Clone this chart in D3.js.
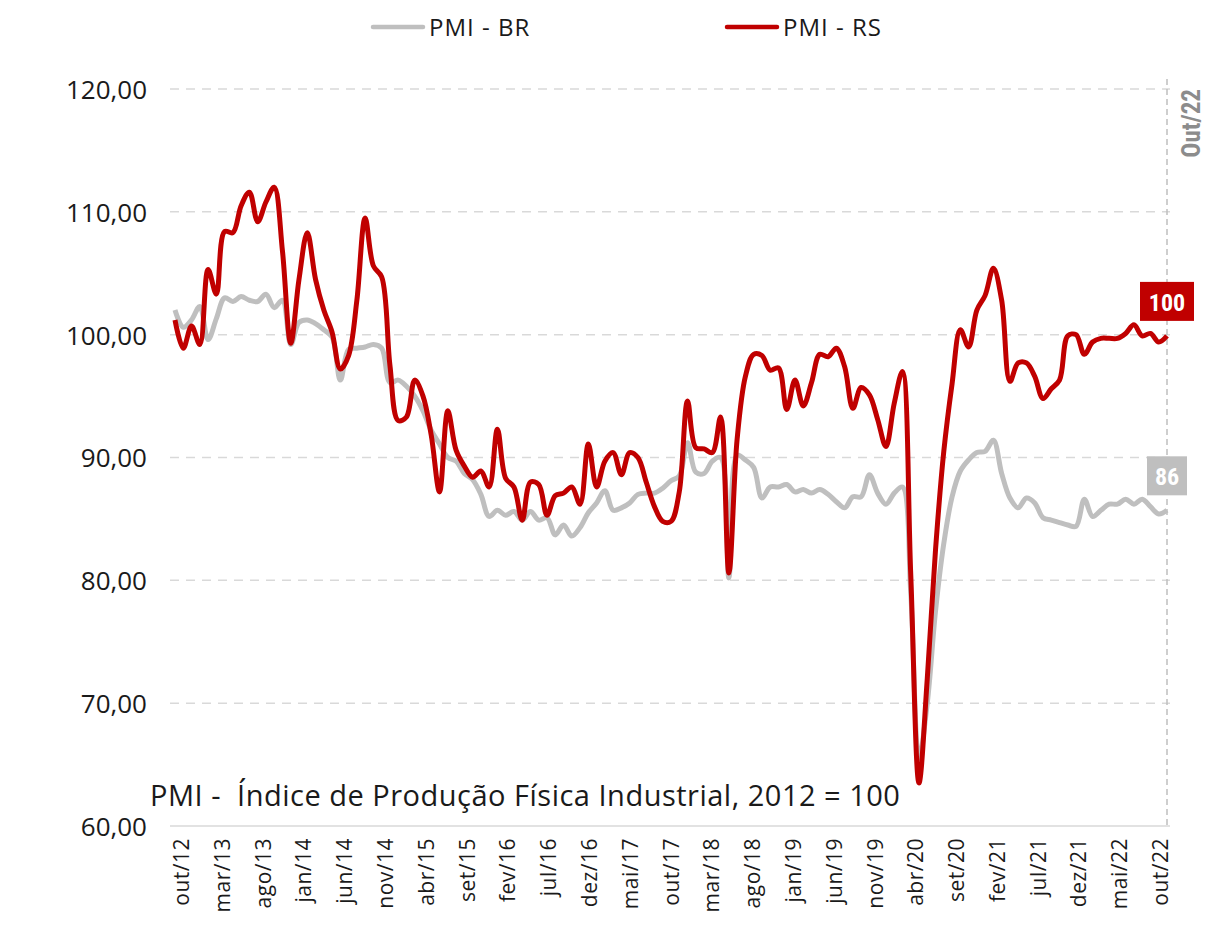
<!DOCTYPE html>
<html>
<head>
<meta charset="utf-8">
<script src="https://cdn.jsdelivr.net/npm/d3@7"></script>
<style>
  body { margin: 0; background: #fff; }
  #pmi-chart { width: 1217px; height: 938px; }
  text { font-family: "Open Sans", "Lato", sans-serif; }
</style>
</head>
<body>
<div id="pmi-chart"></div>
<script>
// monthly index, out/12 .. out/22 (121 months)
var tickLabels = ['out/12', 'mar/13', 'ago/13', 'jan/14', 'jun/14', 'nov/14', 'abr/15', 'set/15',
    'fev/16', 'jul/16', 'dez/16', 'mai/17', 'out/17', 'mar/18', 'ago/18', 'jan/19', 'jun/19',
    'nov/19', 'abr/20', 'set/20', 'fev/21', 'jul/21', 'dez/21', 'mai/22', 'out/22'];
var tickStep = 5;

var pmiBR = [
    102.0, 100.6, 101.2, 102.3, 99.6, 101.3, 103.0, 102.7, 103.1, 102.8,
    102.7, 103.3, 102.2, 102.8, 99.2, 101.0, 101.2, 100.9, 100.4, 99.8,
    96.3, 98.8, 98.9, 99.0, 99.2, 98.9, 96.1, 96.3, 95.8, 95.0,
    93.8, 92.2, 91.1, 90.0, 89.7, 88.7, 88.2, 87.0, 85.2, 85.7,
    85.3, 85.6, 84.9, 85.6, 84.9, 85.1, 83.7, 84.5, 83.6, 84.3,
    85.5, 86.3, 87.3, 85.7, 85.9, 86.3, 87.0, 87.1, 87.1, 87.5,
    88.1, 88.5, 91.2, 88.8, 88.7, 89.7, 90.0, 80.2, 90.2, 89.8,
    89.2, 86.7, 87.6, 87.6, 87.8, 87.2, 87.4, 87.1, 87.4, 87.0,
    86.4, 85.9, 86.8, 86.8, 88.6, 87.1, 86.2, 87.1, 87.6, 79.0,
    65.5, 70.0, 77.5, 83.0, 86.8, 88.9, 89.8, 90.4, 90.5, 91.4,
    88.7, 86.7, 85.9, 86.7, 86.3, 85.1, 84.9, 84.7, 84.5, 84.4,
    86.6, 85.2, 85.7, 86.2, 86.2, 86.6, 86.2, 86.6, 86.0, 85.4,
    85.7
];

var pmiRS = [
    101.2, 98.9, 100.7, 99.2, 105.3, 103.3, 108.4, 108.3, 110.5, 111.6,
    109.2, 110.8, 112.0, 106.8, 99.3, 104.5, 108.3, 104.5, 102.0, 100.2,
    97.2, 98.3, 102.8, 109.5, 105.6, 104.7, 97.5, 93.0, 93.3, 96.3,
    95.0, 91.8, 87.2, 93.8, 90.6, 89.3, 88.4, 88.9, 87.6, 92.3,
    88.3, 87.6, 84.9, 88.0, 87.8, 85.3, 86.9, 87.1, 87.6, 86.2,
    91.1, 87.6, 89.7, 90.4, 88.6, 90.4, 90.0, 88.0, 86.0, 84.8,
    84.8, 87.2, 94.6, 90.8, 90.7, 90.4, 93.3, 80.6, 91.5, 96.6,
    98.4, 98.3, 97.1, 97.3, 93.9, 96.3, 94.2, 96.1, 98.4, 98.2,
    98.9, 97.4, 94.0, 95.7, 95.1, 93.1, 90.9, 94.4, 97.0, 80.5,
    63.5, 72.0, 82.5, 90.5, 96.0, 100.4, 99.0, 102.0, 103.2, 105.4,
    102.8, 96.2, 97.7, 97.7, 96.6, 94.8, 95.6, 96.3, 99.9, 100.0,
    98.4, 99.4, 99.7, 99.7, 99.7, 100.1, 100.8, 99.9, 100.1, 99.4,
    99.9
];

var yTicks = [60, 70, 80, 90, 100, 110, 120];

var seriesNames = ['PMI - BR', 'PMI - RS'];
var seriesColours = ['#bfbfbf', '#c00000'];
var lastLabel = 'Out/22';
var note = 'PMI -  Índice de Produção Física Industrial, 2012 = 100';

var margin = {top: 89, right: 50, bottom: 112, left: 175},
    fullWidth = 1217,
    fullHeight = 938,
    width = 1167 - margin.left,
    height = 826 - margin.top;

var svg = d3.select('#pmi-chart').append('svg')
        .attr('width', fullWidth)
        .attr('height', fullHeight)
      .append('g')
        .attr('transform', 'translate(' + margin.left + ',' + margin.top + ')');

var xScale = d3.scaleLinear().domain([0, pmiRS.length - 1]).range([0, width]);
var yScale = d3.scaleLinear().domain([60, 120]).range([height, 0]);
// category labels sit a little inside the line ends
var labelScale = xScale.copy().range([6, width - 7]);

// grid lines
svg.append('g')
    .attr('class', 'grid')
    .selectAll('line')
    .data(yTicks.filter(function(d) { return d > 60; }))
    .enter().append('line')
        .attr('x1', -5)
        .attr('x2', width + 3)
        .attr('y1', function(d) { return yScale(d); })
        .attr('y2', function(d) { return yScale(d); })
        .style('stroke', '#d9d9d9')
        .style('stroke-width', 1.5)
        .style('stroke-dasharray', '9, 7');

// bottom axis line
svg.append('line')
    .attr('x1', -5)
    .attr('x2', width + 3)
    .attr('y1', height)
    .attr('y2', height)
    .style('stroke', '#d9d9d9')
    .style('stroke-width', 1.5);

// y labels
var yAxis = d3.axisLeft(yScale)
    .tickValues(yTicks)
    .tickSize(0)
    .tickPadding(28)
    .tickFormat(function(d) { return d3.format('.2f')(d).replace('.', ','); });

var y_axis_elem = svg.append('g').attr('class', 'y axis').call(yAxis);
y_axis_elem.select('.domain').remove();
y_axis_elem.selectAll('text')
    .style('font-family', '"Open Sans", sans-serif')
    .style('font-size', '26px')
    .style('fill', '#1a1a1a')
    .attr('dy', '0.36em');

// x labels, every 5 months, rotated
var xAxis = d3.axisBottom(labelScale)
    .tickValues(tickLabels.map(function(d, i) { return i * tickStep; }))
    .tickSize(0)
    .tickFormat(function(d) { return tickLabels[d / tickStep]; });

var x_axis_elem = svg.append('g')
    .attr('class', 'x axis')
    .attr('transform', 'translate(0,' + height + ')')
    .call(xAxis);
x_axis_elem.select('.domain').remove();
x_axis_elem.selectAll('text')
    .attr('transform', 'rotate(-90)')
    .attr('x', -12)
    .attr('y', 0)
    .attr('dy', '0.36em')
    .style('text-anchor', 'end')
    .style('font-family', '"Open Sans", sans-serif')
    .style('font-size', '21px')
    .style('letter-spacing', '0.5px')
    .style('fill', '#1a1a1a');

// vertical marker for last month
svg.append('line')
    .attr('x1', xScale(pmiRS.length - 1))
    .attr('x2', xScale(pmiRS.length - 1))
    .attr('y1', -10)
    .attr('y2', height)
    .style('stroke', '#bfbfbf')
    .style('stroke-width', 1.5)
    .style('stroke-dasharray', '6, 4');

svg.append('text')
    .attr('transform', 'translate(' + (xScale(pmiRS.length - 1) + 33) + ',0) rotate(-90)')
    .style('text-anchor', 'end')
    .style('font-family', '"Roboto Condensed", "Liberation Sans Narrow", "DejaVu Sans Condensed", sans-serif')
    .style('font-weight', 'bold')
    .style('font-size', '25px')
    .style('fill', '#8c8c8c')
    .text(lastLabel);

// note
svg.append('text')
    .attr('x', 150 - margin.left)
    .attr('y', height - 20)
    .style('white-space', 'pre')
    .style('font-family', '"Open Sans", sans-serif')
    .style('font-size', '29px')
    .style('letter-spacing', '0.5px')
    .style('fill', '#1a1a1a')
    .text(note);

var pmi_line = d3.line()
    .curve(d3.curveCatmullRom.alpha(0.5))
    .x(function(d, i) { return xScale(i); })
    .y(function(d) { return yScale(d); });

var allSeries = [pmiBR, pmiRS];

svg.selectAll('.pmi')
    .data(allSeries)
    .enter().append('path')
        .attr('class', 'pmi')
        .attr('d', function(d) { return pmi_line(d); })
        .style('fill', 'none')
        .style('stroke', function(d, i) { return seriesColours[i]; })
        .style('stroke-width', 5)
        .style('stroke-linejoin', 'round');

// last value boxes
var last = svg.selectAll('.last-val')
    .data(allSeries)
    .enter().append('g')
        .attr('class', 'last-val')
        .attr('transform', function(d) {
            return 'translate(' + xScale(d.length - 1) + ',' + (yScale(d[d.length - 1]) - 34) + ')';
        });

last.append('rect')
    .attr('x', function(d) { return Math.round(d[d.length - 1]) >= 100 ? -27 : -20; })
    .attr('y', -20)
    .attr('width', function(d) { return Math.round(d[d.length - 1]) >= 100 ? 54 : 40; })
    .attr('height', 39)
    .style('fill', function(d, i) { return seriesColours[i]; });

last.append('text')
    .attr('y', 0)
    .attr('dy', '0.36em')
    .style('text-anchor', 'middle')
    .style('font-family', '"Roboto Condensed", "Liberation Sans Narrow", "DejaVu Sans Condensed", sans-serif')
    .style('font-weight', 'bold')
    .style('font-size', '24px')
    .style('fill', '#fff')
    .text(function(d) { return Math.round(d[d.length - 1]); });

// legend
var legend = d3.select('svg').append('g').attr('class', 'legend');
var legendX = [373, 727];
seriesNames.forEach(function(name, i) {
    legend.append('line')
        .attr('x1', legendX[i])
        .attr('x2', legendX[i] + 50)
        .attr('y1', 27)
        .attr('y2', 27)
        .style('stroke', seriesColours[i])
        .style('stroke-width', 4.5)
        .style('stroke-linecap', 'round');
    legend.append('text')
        .attr('x', legendX[i] + 56)
        .attr('y', 27)
        .attr('dy', '0.36em')
        .style('font-family', '"Open Sans", sans-serif')
        .style('font-size', '24px')
        .style('letter-spacing', '1px')
        .style('fill', '#1a1a1a')
        .text(name);
});
</script>
</body>
</html>
